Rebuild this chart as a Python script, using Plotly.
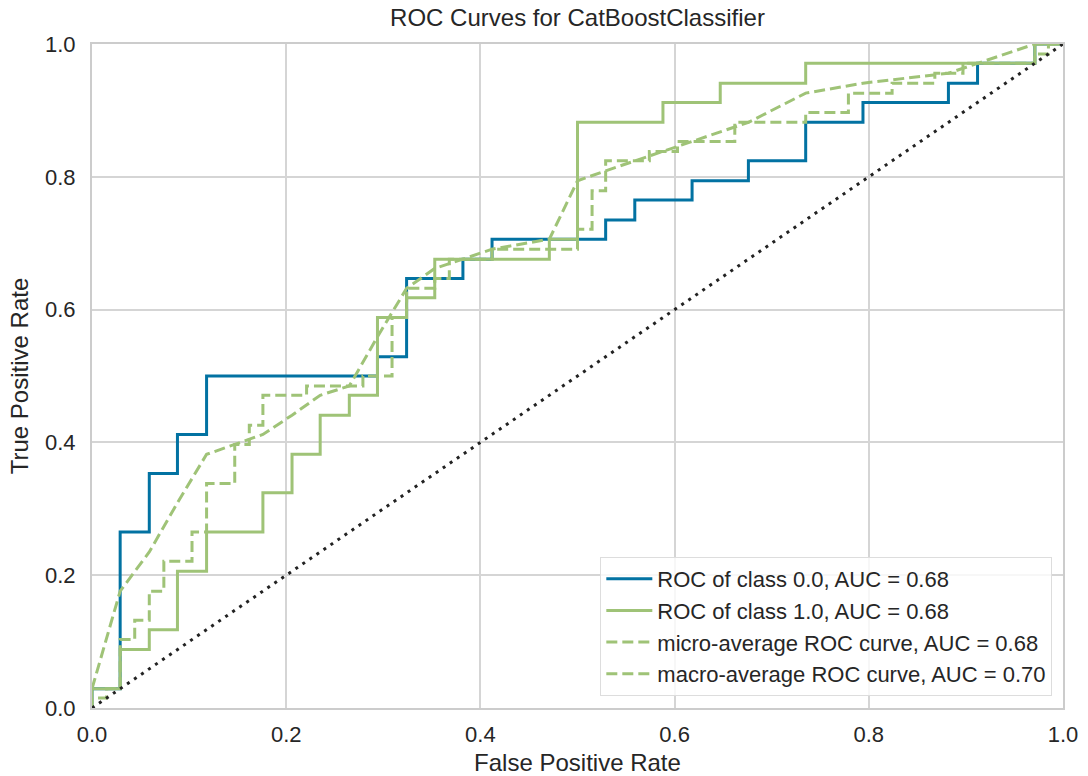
import plotly.graph_objects as go

# ---- data ----
# ROC of class 0.0 (step curve, corner points)
fpr_class0 = [0, 0, 0.029, 0.059, 0.088, 0.118, 0.294, 0.324, 0.382, 0.412, 0.529, 0.559,
              0.618, 0.676, 0.735, 0.794, 0.882, 0.912, 0.971, 1.0]
tpr_class0 = [0, 0.029, 0.265, 0.353, 0.412, 0.5, 0.529, 0.647, 0.676, 0.706, 0.735, 0.765,
              0.794, 0.824, 0.882, 0.912, 0.941, 0.971, 1.0, 1.0]

# ROC of class 1.0
fpr_class1 = [0, 0, 0.029, 0.059, 0.088, 0.118, 0.176, 0.206, 0.235, 0.265, 0.294, 0.324,
              0.353, 0.471, 0.5, 0.588, 0.647, 0.735, 0.971, 1.0]
tpr_class1 = [0, 0.029, 0.088, 0.118, 0.206, 0.265, 0.324, 0.382, 0.441, 0.471, 0.588, 0.618,
              0.676, 0.706, 0.882, 0.912, 0.941, 0.971, 1.0, 1.0]

# micro-average ROC curve (step)
fpr_micro = [0, 0, 0.015, 0.029, 0.044, 0.059, 0.074, 0.103, 0.118, 0.147, 0.162, 0.176,
             0.221, 0.279, 0.309, 0.324, 0.353, 0.368, 0.412, 0.5, 0.515, 0.529, 0.574,
             0.603, 0.662, 0.735, 0.779, 0.824, 0.868, 0.897, 0.971, 0.985, 1.0]
tpr_micro = [0, 0.015, 0.029, 0.103, 0.132, 0.176, 0.221, 0.265, 0.338, 0.397, 0.426, 0.471,
             0.485, 0.5, 0.588, 0.632, 0.647, 0.676, 0.691, 0.721, 0.779, 0.824, 0.838,
             0.853, 0.882, 0.897, 0.926, 0.941, 0.956, 0.971, 0.985, 1.0, 1.0]

# macro-average ROC curve (linear)
fpr_macro = [0, 0.029, 0.059, 0.088, 0.118, 0.176, 0.206, 0.235, 0.265, 0.294, 0.324, 0.353,
             0.382, 0.412, 0.471, 0.5, 0.529, 0.559, 0.588, 0.618, 0.647, 0.676, 0.735,
             0.794, 0.882, 0.912, 0.971, 1.0]
tpr_macro = [0.029, 0.176, 0.235, 0.309, 0.382, 0.412, 0.441, 0.471, 0.485, 0.559, 0.632, 0.662,
             0.676, 0.691, 0.706, 0.794, 0.809, 0.824, 0.838, 0.853, 0.868, 0.882, 0.926,
             0.941, 0.956, 0.971, 1.0, 1.0]

labels = [
    "ROC of class 0.0, AUC = 0.68",
    "ROC of class 1.0, AUC = 0.68",
    "micro-average ROC curve, AUC = 0.68",
    "macro-average ROC curve, AUC = 0.70",
]
tick_vals = [0.0, 0.2, 0.4, 0.6, 0.8, 1.0]
tick_text = ["0.0", "0.2", "0.4", "0.6", "0.8", "1.0"]

BLUE = "#0272a2"
GREEN = "#9fc377"
FONT = "Liberation Sans, Arial, sans-serif"
TXT = "#262626"

fig = go.Figure()
fig.add_trace(go.Scatter(x=fpr_class0, y=tpr_class0, mode="lines", name=labels[0],
                         line=dict(color=BLUE, width=3, shape="hv")))
fig.add_trace(go.Scatter(x=fpr_class1, y=tpr_class1, mode="lines", name=labels[1],
                         line=dict(color=GREEN, width=3, shape="hv")))
fig.add_trace(go.Scatter(x=fpr_micro, y=tpr_micro, mode="lines", name=labels[2],
                         line=dict(color=GREEN, width=3, shape="hv", dash="11px,5px")))
fig.add_trace(go.Scatter(x=fpr_macro, y=tpr_macro, mode="lines", name=labels[3],
                         line=dict(color=GREEN, width=3, dash="11px,5px")))
fig.add_trace(go.Scatter(x=[0, 1], y=[0, 1], mode="lines", showlegend=False,
                         line=dict(color="#222222", width=3, dash="3px,5.5px")))

axis_common = dict(
    range=[0, 1], tickvals=tick_vals, ticktext=tick_text,
    showgrid=True, gridcolor="#d5d5d5", gridwidth=1.5,
    showline=True, linecolor="#cccccc", linewidth=2, mirror=True,
    zeroline=False, ticks="",
    tickfont=dict(family=FONT, size=22, color=TXT),
)

fig.update_layout(
    width=1088, height=776,
    margin=dict(l=92, r=25, t=44, b=68, autoexpand=False),
    paper_bgcolor="white", plot_bgcolor="white",
    title=dict(text="ROC Curves for CatBoostClassifier", x=0.5, xref="paper",
               y=1 - 18 / 776, yref="container", yanchor="middle", xanchor="center",
               font=dict(family=FONT, size=24, color=TXT)),
    xaxis=dict(axis_common, ticklabelstandoff=6,
               title=dict(text="False Positive Rate", standoff=12,
                          font=dict(family=FONT, size=24, color=TXT))),
    yaxis=dict(axis_common, ticklabelstandoff=10,
               title=dict(text="True Positive Rate", standoff=10,
                          font=dict(family=FONT, size=24, color=TXT))),
    legend=dict(x=0.989, y=0.018, xanchor="right", yanchor="bottom",
                bgcolor="rgba(255,255,255,0.8)", bordercolor="#dddddd", borderwidth=1,
                font=dict(family=FONT, size=22, color=TXT), itemwidth=46,
                tracegroupgap=0),
    showlegend=True,
)

fig.write_html("out.html")
